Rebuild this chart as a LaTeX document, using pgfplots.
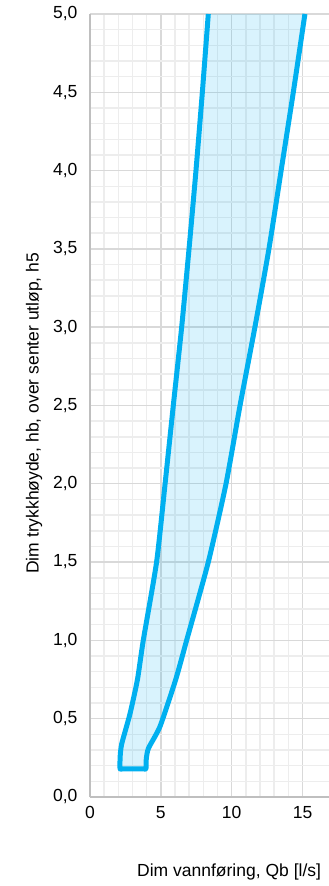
\documentclass[border=0pt]{standalone}
\usepackage{pgfplots}
\pgfplotsset{compat=1.18}
\usepackage{fontspec}
\setmainfont{Liberation Sans}
\definecolor{qline}{HTML}{00B0F0}
\definecolor{majgrid}{HTML}{D9D9D9}
\definecolor{mingrid}{HTML}{EDEDED}
\definecolor{axisgray}{HTML}{BFBFBF}
\begin{document}
\begin{tikzpicture}
\begin{axis}[
  at={(0,0)}, anchor=south west,
  scale only axis, width=239pt, height=783pt,
  xmin=0, xmax=16.87, ymin=0, ymax=5,
  xtick={0,5,10,15},
  ytick={0,0.5,1,1.5,2,2.5,3,3.5,4,4.5,5},
  minor x tick num=4, minor y tick num=4,
  grid=both,
  major grid style={majgrid, line width=1.4pt},
  minor grid style={mingrid, line width=1.5pt},
  axis x line*=bottom, axis y line*=left,
  axis line style={axisgray, line width=1.6pt, -},
  major tick length=0pt, minor tick length=0pt,
  tick label style={font=\fontsize{17.5}{20}\selectfont, text=black},
  label style={font=\fontsize{17.5}{20}\selectfont},
  /pgf/number format/assume math mode=true,
  yticklabel style={/pgf/number format/.cd, use comma, fixed, fixed zerofill, precision=1, /tikz/.cd, anchor=east, xshift=-9pt},
  xticklabel style={anchor=north, yshift=-6pt},
  xlabel={Dim vannføring, Qb [l/s]},
  xlabel style={at={(axis description cs:0.582,0)}, anchor=center, yshift=-75pt},
  ylabel={Dim trykkhøyde, hb, over senter utløp, h5},
  ylabel style={at={(axis description cs:0,0.49)}, anchor=center, yshift=56pt},
  clip=true,
]
\addplot[draw=none, fill=qline, fill opacity=0.15, smooth, tension=0.35] coordinates {
(8.35,5.0) (7.93,4.5) (7.48,4.0) (6.99,3.5) (6.47,3.0) (5.88,2.5) (5.3,2.0) (4.7,1.5) (3.76,1.0) (3.35,0.75) (2.82,0.53) (2.24,0.34) (2.13,0.26) (2.12,0.18) (2.3,0.18) (3.75,0.18) (3.95,0.18) (3.97,0.24) (4.12,0.31) (4.94,0.45) (6.05,0.75) (6.82,1.0) (8.35,1.5) (9.6,2.0) (10.59,2.5) (11.64,3.0) (12.63,3.5) (13.49,4.0) (14.35,4.5) (15.17,5.0)
} -- cycle;
\addplot[qline, line width=5pt, line join=round, line cap=butt, mark=none, smooth, tension=0.35] coordinates {
(8.35,5.0) (7.93,4.5) (7.48,4.0) (6.99,3.5) (6.47,3.0) (5.88,2.5) (5.3,2.0) (4.7,1.5) (3.76,1.0) (3.35,0.75) (2.82,0.53) (2.24,0.34) (2.13,0.26) (2.12,0.18) (2.3,0.18) (3.75,0.18) (3.95,0.18) (3.97,0.24) (4.12,0.31) (4.94,0.45) (6.05,0.75) (6.82,1.0) (8.35,1.5) (9.6,2.0) (10.59,2.5) (11.64,3.0) (12.63,3.5) (13.49,4.0) (14.35,4.5) (15.17,5.0)
};
\end{axis}
\pgfresetboundingbox
\useasboundingbox (-90pt,-89pt) rectangle (239pt,797pt);
\end{tikzpicture}
\end{document}
